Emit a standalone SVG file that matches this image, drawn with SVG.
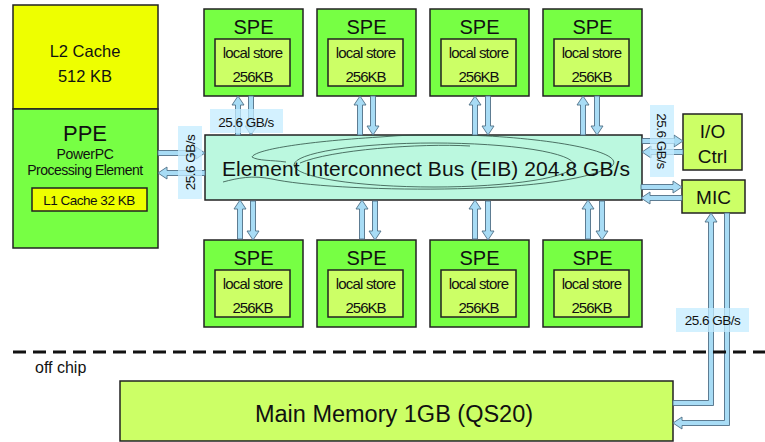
<svg xmlns="http://www.w3.org/2000/svg" width="765" height="442" viewBox="0 0 765 442">
<style>
text{font-family:"Liberation Sans",Arial,sans-serif;fill:#111}
.box{stroke:#222;stroke-width:1.5}
.spe{fill:#77FF44}
.ls{fill:#CCFF66}
.yel{fill:#EEFF00}
.lime{fill:#CCFF66}
.arr{fill:#A8DCF5;stroke:#4F6F86;stroke-width:0.9}
.lbl{fill:#C4ECFF;opacity:0.75}
.t20{font-size:20px;text-anchor:middle}
.t14{font-size:14px;text-anchor:middle;letter-spacing:-0.5px}
.t15{font-size:15px;text-anchor:middle;letter-spacing:-0.8px}
.t12{font-size:13.5px;text-anchor:middle;letter-spacing:-0.5px}
.curve{fill:none;stroke:#2F4F44;stroke-width:0.8}
</style>
<defs>
<path id="va" d="M-2.5,39 V9 H-6 L0,0 L6,9 H2.5 V39 Z"/>
<path id="ha47" d="M-47,-2.5 H-9 V-6 L0,0 L-9,6 V2.5 H-47 Z"/>
<path id="ha41" d="M-41,-2.5 H-9 V-6 L0,0 L-9,6 V2.5 H-41 Z"/>
<g id="speg">
<rect class="box spe" x="0" y="0" width="99" height="87"/>
<rect class="box ls" x="11" y="30" width="75" height="47"/>
<text class="t20" x="49.5" y="25">SPE</text>
<text class="t15" x="48.5" y="49">local store</text>
<text class="t15" x="48.5" y="73" style="letter-spacing:-1px">256KB</text>
</g>
</defs>

<g id="l2cache">
<rect class="box yel" x="13" y="5" width="145" height="104"/>
<text x="85" y="57" style="font-size:16.5px;text-anchor:middle">L2 Cache</text>
<text x="85" y="82" style="font-size:16.5px;text-anchor:middle">512 KB</text>
</g>

<g id="ppe">
<rect class="box spe" x="13" y="109" width="145" height="139"/>
<text x="85" y="141" style="font-size:22px;text-anchor:middle">PPE</text>
<text x="85" y="159" class="t14" style="letter-spacing:-0.3px">PowerPC</text>
<text x="85" y="175" class="t14">Processing Element</text>
<rect class="box yel" x="32" y="188" width="115" height="23"/>
<text x="89" y="205" style="font-size:13.5px;text-anchor:middle;letter-spacing:-0.5px">L1 Cache 32 KB</text>
</g>

<g id="spe-top-1"><use href="#speg" x="204" y="9"/></g>
<g id="spe-top-2"><use href="#speg" x="317" y="9"/></g>
<g id="spe-top-3"><use href="#speg" x="430" y="9"/></g>
<g id="spe-top-4"><use href="#speg" x="543" y="9"/></g>
<g id="spe-bot-1"><use href="#speg" x="204" y="240"/></g>
<g id="spe-bot-2"><use href="#speg" x="317" y="240"/></g>
<g id="spe-bot-3"><use href="#speg" x="430" y="240"/></g>
<g id="spe-bot-4"><use href="#speg" x="543" y="240"/></g>

<g id="eib">
<rect class="box" fill="#BBF8DF" x="205" y="135" width="437" height="65"/>
<path class="curve" d="M223,182 C238,178 252,175 272,179 C330,192 560,197 612,166 C632,146 480,128 380,137 C300,142 255,150 252,157 C258,161 272,160 286,162"/>
<ellipse class="curve" cx="434" cy="165" rx="140" ry="22"/>
<path class="curve" d="M300,163 C330,150 420,143 470,146"/>
<text x="222" y="176" style="font-size:21px" textLength="408">Element Interconnect Bus (EIB) 204.8 GB/s</text>
</g>

<g id="io">
<rect class="box lime" x="683" y="114" width="59" height="56"/>
<text x="712.5" y="138" style="font-size:19px;text-anchor:middle">I/O</text>
<text x="712.5" y="163" style="font-size:19px;text-anchor:middle">Ctrl</text>
</g>

<g id="mic">
<rect class="box lime" x="682" y="180" width="63" height="33"/>
<text x="713.5" y="204" style="font-size:19px;text-anchor:middle">MIC</text>
</g>

<g id="mainmem">
<rect class="box lime" x="120" y="381" width="553" height="60"/>
<text x="394" y="422" style="font-size:23.5px;text-anchor:middle">Main Memory 1GB (QS20)</text>
</g>

<g id="connectors">
<use class="arr" href="#va" transform="translate(238,96)"/>
<use class="arr" href="#va" transform="translate(251,135) rotate(180)"/>
<use class="arr" href="#va" transform="translate(360,96)"/>
<use class="arr" href="#va" transform="translate(373,135) rotate(180)"/>
<use class="arr" href="#va" transform="translate(475,96)"/>
<use class="arr" href="#va" transform="translate(488,135) rotate(180)"/>
<use class="arr" href="#va" transform="translate(583,96)"/>
<use class="arr" href="#va" transform="translate(597,135) rotate(180)"/>
<use class="arr" href="#va" transform="translate(240,200)"/>
<use class="arr" href="#va" transform="translate(253,240) rotate(180)"/>
<use class="arr" href="#va" transform="translate(362,200)"/>
<use class="arr" href="#va" transform="translate(375,240) rotate(180)"/>
<use class="arr" href="#va" transform="translate(475,200)"/>
<use class="arr" href="#va" transform="translate(488,240) rotate(180)"/>
<use class="arr" href="#va" transform="translate(588,200)"/>
<use class="arr" href="#va" transform="translate(602,240) rotate(180)"/>
<use class="arr" href="#ha47" transform="translate(205,153)"/>
<use class="arr" href="#ha47" transform="translate(158,173) rotate(180)"/>
<use class="arr" href="#ha41" transform="translate(683,141)"/>
<use class="arr" href="#ha41" transform="translate(642,152) rotate(180)"/>
<use class="arr" href="#ha41" transform="translate(682,187)"/>
<use class="arr" href="#ha41" transform="translate(641,198) rotate(180)"/>
<path class="arr" d="M673,400.5 H708.5 V222 H705 L711,213 L717,222 H713.5 V405.5 H673 Z"/>
<path class="arr" d="M724.5,213 H729.5 V425.5 H682 V429 L673,423 L682,417 V420.5 H724.5 Z"/>
</g>

<g id="labels">
<rect class="lbl" x="210" y="109" width="73" height="24"/>
<text class="t12" x="246" y="127">25.6 GB/s</text>
<rect class="lbl" x="178" y="126" width="24" height="73"/>
<text class="t12" transform="translate(195,162.5) rotate(-90)">25.6 GB/s</text>
<rect class="lbl" x="650" y="105" width="24" height="72"/>
<text class="t12" transform="translate(657,141) rotate(90)">25.6 GB/s</text>
<rect class="lbl" x="676" y="308" width="73" height="24"/>
<text class="t12" x="712.5" y="325">25.6 GB/s</text>
</g>

<g id="offchip">
<line x1="13" y1="352" x2="765" y2="352" stroke="#111" stroke-width="3" stroke-dasharray="13 7"/>
<text x="35" y="373" style="font-size:16px">off chip</text>
</g>
</svg>
